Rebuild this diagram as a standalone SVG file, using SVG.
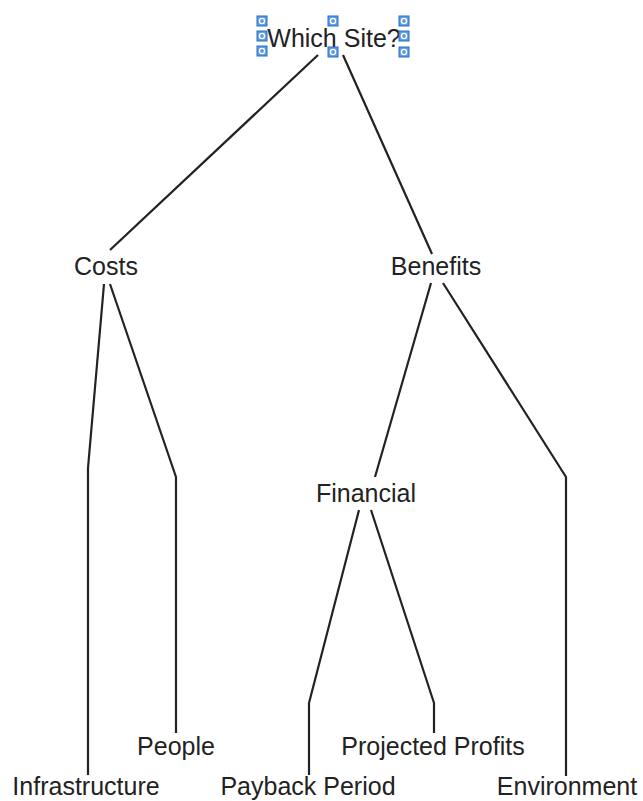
<svg xmlns="http://www.w3.org/2000/svg" width="643" height="801" viewBox="0 0 643 801">
<style>
.t{font-family:"Liberation Sans",Arial,sans-serif;font-size:25px;fill:#222;text-anchor:middle}
.c{fill:none;stroke:#222;stroke-width:2.2;stroke-linejoin:round}
.h{fill:#5b9be6;stroke:#2a6fc9;stroke-width:1}
.hc{fill:none;stroke:#fff;stroke-width:1.4}
</style>
<defs>
<g id="hd"><rect class="h" x="-5" y="-5" width="10" height="10"/><circle class="hc" cx="0" cy="0" r="2.6"/></g>
</defs>
<rect width="643" height="801" fill="#fff"/>
<g id="connectors">
<path class="c" d="M318,55 L110,250"/>
<path class="c" d="M343,55 L432,254"/>
<path class="c" d="M104,284 L88,468 L88,775"/>
<path class="c" d="M110,284 L176,477 L176,733"/>
<path class="c" d="M431,283 L375,477"/>
<path class="c" d="M443,283 L566,477 L566,776"/>
<path class="c" d="M359,510 L309,703 L309,775"/>
<path class="c" d="M371,510 L434,703 L434,733"/>
</g>
<g id="n-which"><text class="t" x="334" y="47" font-size="26">Which Site?</text>
<use href="#hd" x="262" y="21"/><use href="#hd" x="262" y="36"/><use href="#hd" x="262" y="51"/>
<use href="#hd" x="333" y="21"/><use href="#hd" x="333" y="52"/>
<use href="#hd" x="404" y="21"/><use href="#hd" x="404" y="36"/><use href="#hd" x="404" y="52"/></g>
<g id="n-costs"><text class="t" x="106" y="275">Costs</text></g>
<g id="n-benefits"><text class="t" x="436" y="275">Benefits</text></g>
<g id="n-financial"><text class="t" x="366" y="502">Financial</text></g>
<g id="n-people"><text class="t" x="176" y="755">People</text></g>
<g id="n-infra"><text class="t" x="86" y="795">Infrastructure</text></g>
<g id="n-payback"><text class="t" x="308" y="795">Payback Period</text></g>
<g id="n-projected"><text class="t" x="433" y="755">Projected Profits</text></g>
<g id="n-env"><text class="t" x="567" y="795">Environment</text></g>
</svg>
